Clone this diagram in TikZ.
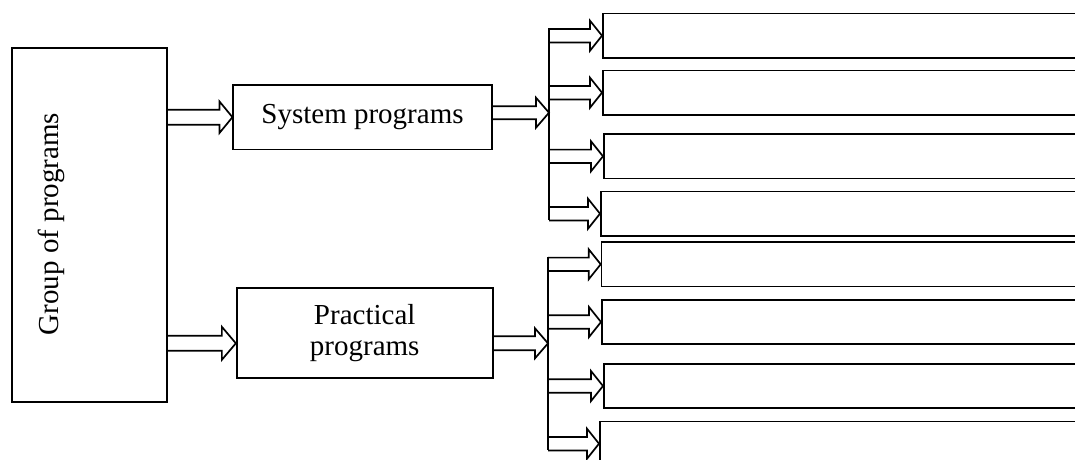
\documentclass[tikz,border=0pt]{standalone}
\usepackage{fontspec}
\setmainfont{Liberation Serif}
\usetikzlibrary{calc}
\tikzset{
  box/.style={draw, line width=1.7pt, inner sep=0pt, align=center, font=\fontsize{29}{31}\selectfont},
  lbl/.style={inner sep=0pt, font=\fontsize{29}{33}\selectfont},
  barrow/.style={draw, line width=1.7pt, line join=miter},
  brk/.style={line width=1.7pt}
}
\newcommand\myblockarrow[5]{%
  \draw[barrow] let \p1=(#1), \p2=(#2) in
    (\x1,{\y2+#3}) -- ({\x2-#5},{\y2+#3}) -- ({\x2-#5},{\y2+#4}) -- (\p2)
    -- ({\x2-#5},{\y2-#4}) -- ({\x2-#5},{\y2-#3}) -- (\x1,{\y2-#3});}
\begin{document}
\begin{tikzpicture}[x=1pt,y=-1pt]
\useasboundingbox (0,0) rectangle (1075,459);
\clip (0,0) rectangle (1075,459);
% left box
\node[box, anchor=north west, minimum width=155pt, minimum height=353.7pt] (group) at (11,47.3) {};
\node[lbl, rotate=90] (grouplabel) at (51,224) {Group of programs};
% middle boxes
\node[box, minimum width=258.4pt, minimum height=64.3pt] (sys) at (362.5,117.2) {System programs};
\node[box, minimum width=256pt, minimum height=90pt] (prac) at (364.7,333.3) {Practical\\programs};
% right boxes
\foreach \i/\xx/\yy in {1/602/12.7, 2/602/69.7, 3/603/133.3, 4/600/190.7,
                        5/600.7/241.3, 6/601/299, 7/603/363, 8/599/420.7}
  {\node[box, anchor=north west, minimum width=520pt, minimum height=44.3pt] (r\i) at (\xx,\yy) {};}
% coordinates
\coordinate (pin) at ($(prac.west)+(0,10)$);
\coordinate (j1) at (549,112.7);
\coordinate (j2) at (548,343.3);
\coordinate (bt1) at (549,28.1);
\coordinate (bb1) at (549,219.6);
\coordinate (bt2) at (548,256.7);
\coordinate (bb2) at (548,449.6);
% arrows from group
\myblockarrow{group.east}{sys.west}{7.5pt}{15.8pt}{13pt}
\myblockarrow{group.east}{pin}{7.5pt}{16.5pt}{14pt}
% arrows to brackets
\myblockarrow{sys.east}{j1}{6.5pt}{15pt}{13pt}
\myblockarrow{prac.east}{j2}{7pt}{15pt}{13pt}
% brackets
\draw[brk] (bt1) -- (bb1);
\draw[brk] (bt2) -- (bb2);
% small arrows
\foreach \i in {1,2,3,4}
  {\myblockarrow{bt1}{r\i.west}{6.7pt}{15pt}{12pt}}
\foreach \i in {5,6,7,8}
  {\myblockarrow{bt2}{r\i.west}{6.7pt}{15pt}{12pt}}
\end{tikzpicture}
\end{document}
